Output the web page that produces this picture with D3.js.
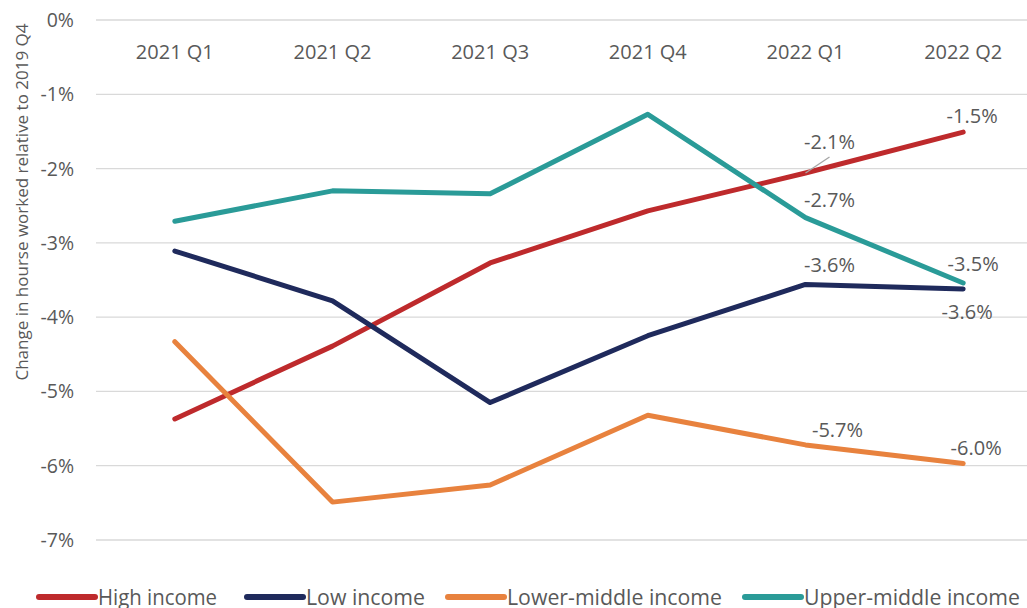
<!DOCTYPE html>
<html>
<head>
<meta charset="utf-8">
<script src="https://cdn.jsdelivr.net/npm/d3@7"></script>
<style>
  body { margin: 0; background: #fff; }
  svg { display: block; font-family: "Open Sans", sans-serif; }
</style>
</head>
<body>
<svg id="chart" width="1027" height="608"></svg>
<script>
// quarters and series (percent change in hours worked vs 2019 Q4)
const quarters = ['2021 Q1', '2021 Q2', '2021 Q3', '2021 Q4', '2022 Q1', '2022 Q2'];
const high_income   = [-5.37, -4.39, -3.27, -2.57, -2.06, -1.51];
const low_income    = [-3.11, -3.78, -5.15, -4.25, -3.56, -3.62];
const lower_middle  = [-4.33, -6.49, -6.26, -5.32, -5.72, -5.97];
const upper_middle  = [-2.71, -2.30, -2.34, -1.27, -2.66, -3.54];
const y_ticks = [0, -1, -2, -3, -4, -5, -6, -7];

const series = [
    { name : 'High income',         color : '#BE2A2C', values : high_income },
    { name : 'Low income',          color : '#1F2A5C', values : low_income },
    { name : 'Lower-middle income', color : '#E8823E', values : lower_middle },
    { name : 'Upper-middle income', color : '#2A9B98', values : upper_middle },
];

// which points get a data label, and where the label sits relative to it
const labels = [
    { s : 0, q : 4, dx : 24, dy : -31, leader : true },
    { s : 0, q : 5, dx : 9,  dy : -16 },
    { s : 3, q : 4, dx : 24, dy : -18 },
    { s : 1, q : 4, dx : 24, dy : -19 },
    { s : 3, q : 5, dx : 10, dy : -19 },
    { s : 1, q : 5, dx : 4,  dy : 23 },
    { s : 2, q : 4, dx : 32, dy : -15 },
    { s : 2, q : 5, dx : 13, dy : -15 },
];

const svg = d3.select('#chart');
const text_color = '#595959';

const x = d3.scalePoint().domain(quarters).range([96, 1042]).padding(0.5);
const y = d3.scaleLinear().domain([0, -7]).range([20, 540]);

// gridlines
svg.append('g').selectAll('line')
    .data(y_ticks).join('line')
    .attr('x1', 96).attr('x2', 1027)
    .attr('y1', d => y(d)).attr('y2', d => y(d))
    .attr('stroke', '#D9D9D9').attr('stroke-width', 1.3);

// y tick labels
svg.append('g').selectAll('text')
    .data(y_ticks).join('text')
    .attr('x', 74).attr('y', d => y(d) + 7)
    .attr('text-anchor', 'end')
    .attr('font-size', 19.5).attr('fill', text_color)
    .text(d => d + '%');

// category labels along the top
svg.append('g').selectAll('text')
    .data(quarters).join('text')
    .attr('x', d => x(d)).attr('y', 59)
    .attr('text-anchor', 'middle')
    .attr('font-size', 20).attr('fill', text_color)
    .text(d => d);

// y axis title
svg.append('text')
    .attr('transform', 'translate(28, 202) rotate(-90)')
    .attr('text-anchor', 'middle')
    .attr('font-size', 17).attr('fill', text_color)
    .text('Change in hourse worked relative to 2019 Q4');

const line = d3.line()
    .x((d, i) => x(quarters[i]))
    .y(d => y(d));

svg.append('g').selectAll('path')
    .data(series).join('path')
    .attr('d', d => line(d.values))
    .attr('fill', 'none')
    .attr('stroke', d => d.color)
    .attr('stroke-width', 5)
    .attr('stroke-linejoin', 'round')
    .attr('stroke-linecap', 'round');

// data labels
const lab = svg.append('g');
labels.forEach(l => {
    const v = series[l.s].values[l.q];
    const px = x(quarters[l.q]);
    const py = y(v);
    if (l.leader) {
        lab.append('line')
            .attr('x1', px).attr('y1', py)
            .attr('x2', px + 24).attr('y2', py - 16)
            .attr('stroke', '#A6A6A6').attr('stroke-width', 1.3);
    }
    lab.append('text')
        .attr('x', px + l.dx).attr('y', py + l.dy + 7)
        .attr('text-anchor', 'middle')
        .attr('font-size', 20).attr('fill', text_color)
        .text(v.toFixed(1) + '%');
});

// legend
const legend_x = [39, 247, 448, 745];
const legend_w = [119, 119, 215, 216];
const legend = svg.append('g').selectAll('g')
    .data(series).join('g')
    .attr('transform', (d, i) => 'translate(' + legend_x[i] + ', 597)');

legend.append('line')
    .attr('x1', 0).attr('x2', 56)
    .attr('stroke', d => d.color)
    .attr('stroke-width', 6)
    .attr('stroke-linecap', 'round');

legend.append('text')
    .attr('x', 59).attr('y', 7.5)
    .attr('font-size', 21).attr('fill', text_color)
    .attr('textLength', (d, i) => legend_w[i])
    .attr('lengthAdjust', 'spacingAndGlyphs')
    .text(d => d.name);
</script>
</body>
</html>
